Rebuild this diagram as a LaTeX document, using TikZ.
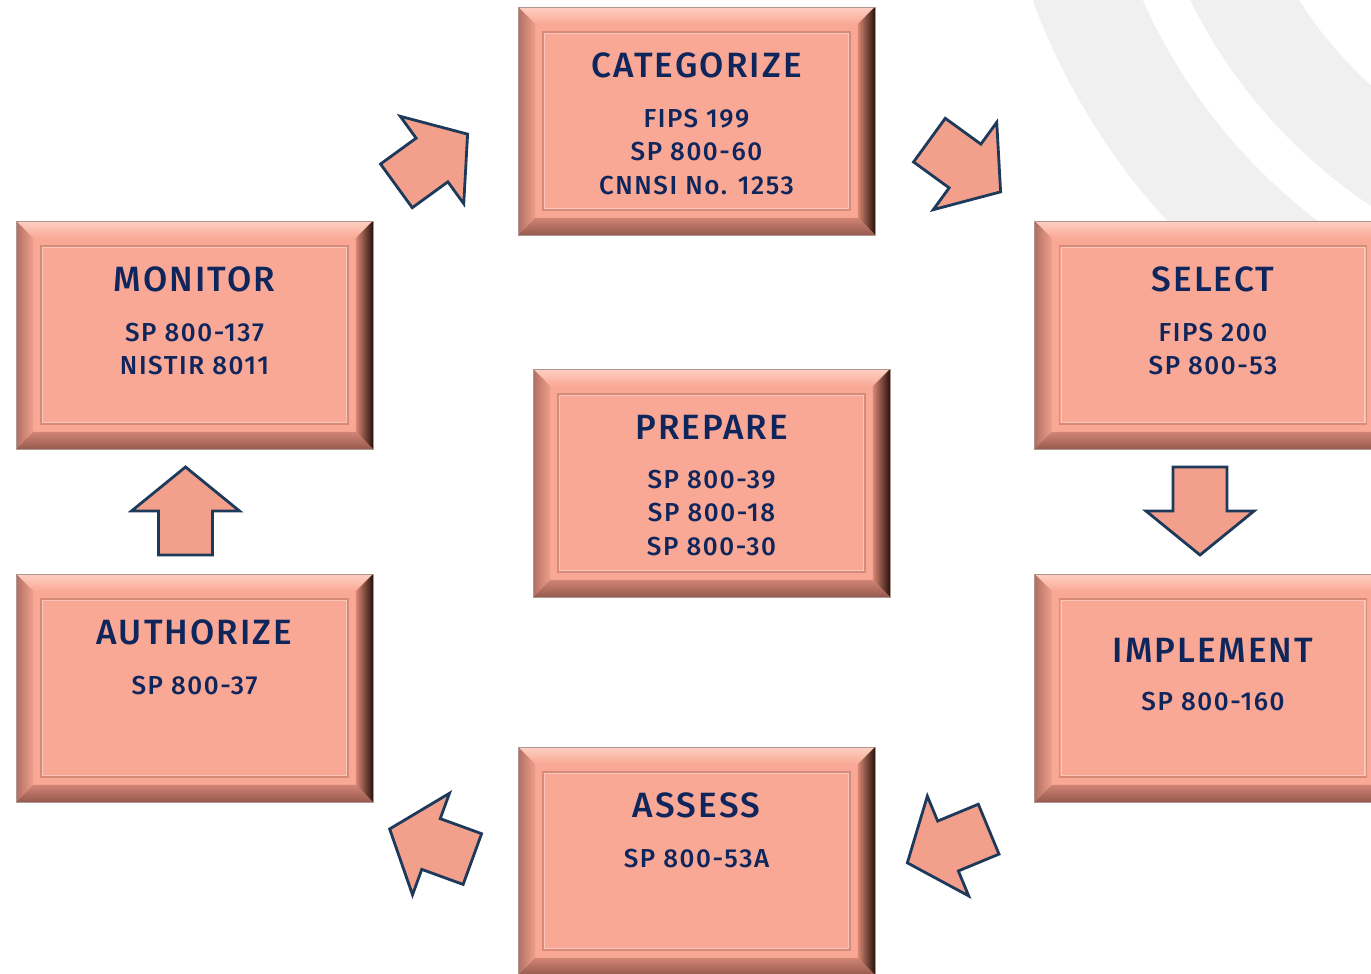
\documentclass[tikz,border=0pt]{standalone}
\usepackage{fontspec}
\setmainfont{Fira Sans}[UprightFont=* Medium, LetterSpace=6]
\usepackage{xcolor}
\usepackage{tikz}
\usetikzlibrary{positioning, calc}
\definecolor{salmon}{RGB}{250,168,150}
\definecolor{bevtop}{RGB}{253,208,194}
\definecolor{bevleftout}{RGB}{176,112,98}
\definecolor{bevleftin}{RGB}{238,158,139}
\definecolor{bevrightin}{RGB}{214,134,114}
\definecolor{bevrightout}{RGB}{40,18,12}
\definecolor{bevbotin}{RGB}{208,132,116}
\definecolor{bevbotout}{RGB}{150,90,78}
\definecolor{panel}{RGB}{214,138,122}
\definecolor{edge}{RGB}{175,150,145}
\definecolor{navy}{RGB}{15,38,92}
\definecolor{arrowfill}{RGB}{242,160,140}
\definecolor{arrowline}{RGB}{30,58,90}
\definecolor{ring}{RGB}{240,240,240}

\tikzset{
  pics/flowarrow/.style={code={
    \draw[arrowline, fill=arrowfill, line width=1.6pt, line join=miter]
      (-44,-27) -- (0,-27) -- (0,-54) -- (44,0) -- (0,54) -- (0,27) -- (-44,27) -- cycle;
  }}
}

\begin{document}
\begin{tikzpicture}[x=0.02cm, y=-0.02cm,
  stage/.style={rectangle, draw=edge, line width=0.4pt, fill=salmon,
                minimum width=7.14cm, minimum height=4.56cm, inner sep=0pt,
                path picture={
                  \coordinate (nw) at (path picture bounding box.north west);
                  \coordinate (ne) at (path picture bounding box.north east);
                  \coordinate (sw) at (path picture bounding box.south west);
                  \coordinate (se) at (path picture bounding box.south east);
                  \shade[top color=bevtop, bottom color=salmon]
                    (nw) -- (ne) -- ($(ne)+(-17,17)$) -- ($(nw)+(17,17)$) -- cycle;
                  \shade[left color=bevleftout, right color=bevleftin]
                    (nw) -- ($(nw)+(17,17)$) -- ($(sw)+(17,-17)$) -- (sw) -- cycle;
                  \shade[left color=bevrightin, right color=bevrightout]
                    (ne) -- (se) -- ($(se)+(-17,-17)$) -- ($(ne)+(-17,17)$) -- cycle;
                  \shade[top color=bevbotin, bottom color=bevbotout]
                    (sw) -- (se) -- ($(se)+(-17,-17)$) -- ($(sw)+(17,-17)$) -- cycle;
                  \draw[panel, line width=0.8pt] ($(nw)+(25,25)$) rectangle ($(se)+(-25,-25)$);
                  \draw[white, opacity=0.35, line width=0.6pt] ($(nw)+(26.5,26.5)$) rectangle ($(se)+(-26.5,-26.5)$);
                }},
  title/.style={inner sep=0pt, text=navy, font=\fontsize{20}{24}\selectfont},
  refs/.style={inner sep=0pt, text=navy, align=center, font=\fontsize{14.8}{19}\selectfont}]
  \clip (0,0) rectangle (1371,973);
  \fill[ring, even odd rule] (1660,-230) circle (668) (1660,-230) circle (566)
                             (1660,-230) circle (523) (1660,-230) circle (428);

  \node[stage] (cat) at (696.5,121) {};
  \node[stage] (mon) at (194.5,335) {};
  \node[stage] (sel) at (1213,335) {};
  \node[stage] (prep) at (711.5,483) {};
  \node[stage] (auth) at (194.5,688) {};
  \node[stage] (impl) at (1213,688) {};
  \node[stage] (ass) at (696.5,861) {};

  \node[title, below=0.92cm of cat.north] (cattitle) {CATEGORIZE};
  \node[refs, below=0.6cm of cattitle] (catrefs) {FIPS 199\\SP 800-60\\CNNSI No. 1253};
  \node[title, below=0.92cm of mon.north] (montitle) {MONITOR};
  \node[refs, below=0.6cm of montitle] (monrefs) {SP 800-137\\NISTIR 8011};
  \node[title, below=0.92cm of sel.north] (seltitle) {SELECT};
  \node[refs, below=0.6cm of seltitle] (selrefs) {FIPS 200\\SP 800-53};
  \node[title, below=0.92cm of prep.north] (preptitle) {PREPARE};
  \node[refs, below=0.6cm of preptitle] (preprefs) {SP 800-39\\SP 800-18\\SP 800-30};
  \node[title, below=0.92cm of auth.north] (authtitle) {AUTHORIZE};
  \node[refs, below=0.6cm of authtitle] (authrefs) {SP 800-37};
  \node[title, below=1.29cm of impl.north] (impltitle) {IMPLEMENT};
  \node[refs, below=0.58cm of impltitle] (implrefs) {SP 800-160};
  \node[title, below=0.92cm of ass.north] (asstitle) {ASSESS};
  \node[refs, below=0.6cm of asstitle] (assrefs) {SP 800-53A};

  \pic[rotate=36] at (432,160) {flowarrow};
  \pic[rotate=-36] at (965,166) {flowarrow};
  \pic[rotate=-90] at (1200,511) {flowarrow};
  \pic[rotate=202.5] at (948,846) {flowarrow};
  \pic[rotate=160] at (431,844) {flowarrow};
  \pic[rotate=90] at (185.5,511) {flowarrow};
\end{tikzpicture}
\end{document}
